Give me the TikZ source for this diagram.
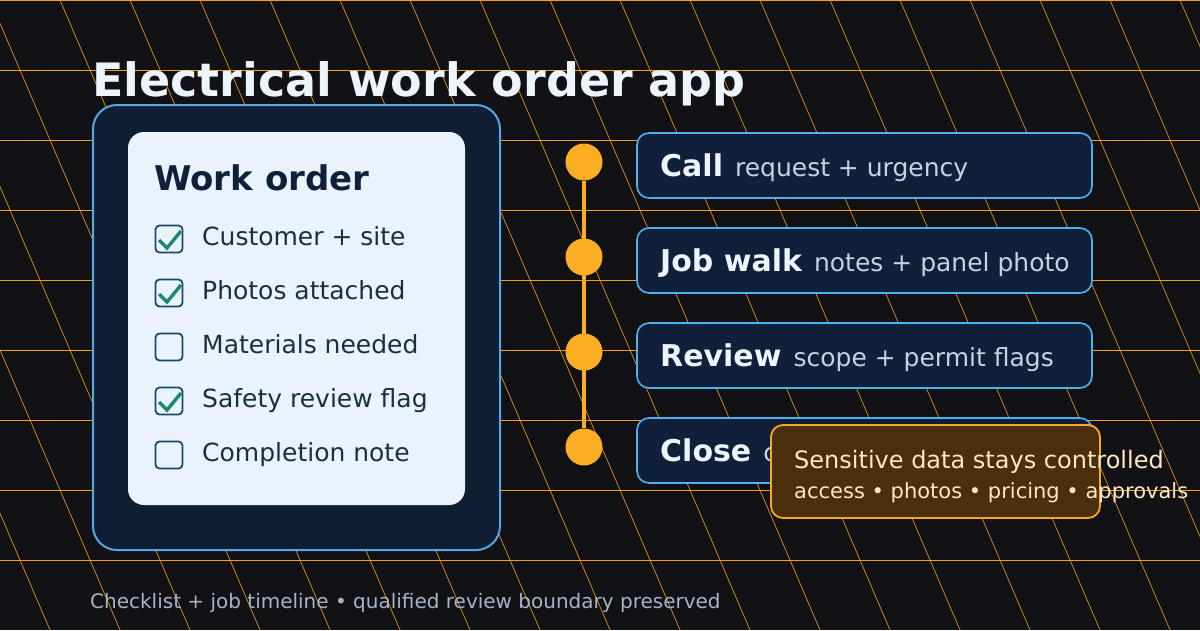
\documentclass[tikz,border=0pt]{standalone}
\usepackage{fontspec}
\setmainfont{DejaVu Sans}
\definecolor{bgdark}{HTML}{121116}
\definecolor{gridorange}{HTML}{F59E1B}
\definecolor{panelfill}{HTML}{0F1E33}
\definecolor{panelline}{HTML}{56A8E4}
\definecolor{cardfill}{HTML}{EAF3FB}
\definecolor{inktitle}{HTML}{EEF4FB}
\definecolor{inkdark}{HTML}{10203A}
\definecolor{inkitem}{HTML}{1E2D3F}
\definecolor{boxline}{HTML}{1B4A6A}
\definecolor{tickgreen}{HTML}{1D8A6B}
\definecolor{dotorange}{HTML}{FBAE24}
\definecolor{stepfill}{HTML}{10203A}
\definecolor{stepline}{HTML}{4DB1EE}
\definecolor{stepdesc}{HTML}{C5D3E1}
\definecolor{notefill}{HTML}{4B2F0D}
\definecolor{noteline}{HTML}{F9A825}
\definecolor{noteink}{HTML}{FDE8C4}
\definecolor{footink}{HTML}{A6B4C4}
\newcommand{\pxfont}[1]{\fontsize{#1}{#1}\selectfont}
\begin{document}
\begin{tikzpicture}[x=1pt,y=-1pt,
  gridline/.style={gridorange,line width=0.9pt},
  slantline/.style={gridorange,line width=0.6pt},
  label/.style={anchor=base west,inner sep=0pt},
  checkbox/.style={draw=boxline,fill=cardfill,line width=1.8pt,rounded corners=4pt,minimum size=27pt,inner sep=0pt},
  tick/.style={tickgreen,line width=3.4pt},
  dot/.style={circle,fill=dotorange,minimum size=37pt,inner sep=0pt},
  stepbox/.style={draw=stepline,fill=stepfill,line width=1.6pt,rounded corners=12pt,minimum width=455pt,minimum height=65pt},
  notebox/.style={draw=noteline,fill=notefill,line width=1.8pt,rounded corners=12pt,minimum width=329pt,minimum height=93pt}]

\fill[bgdark] (0,0) rectangle (1200,630);
\useasboundingbox (0,0) rectangle (1200,630);
\begin{scope}
\clip (0,0) rectangle (1200,630);
\foreach \k in {-4,...,17} \draw[slantline] ({60+70*\k},0) -- ({330+70*\k},630);
\foreach \y in {0,70,...,560} \draw[gridline] (0,\y) -- (1200,\y);
\end{scope}

\node[label,text=inktitle,font=\bfseries\pxfont{46}] (title) at (92,96) {Electrical work order app};

\filldraw[draw=panelline,fill=panelfill,line width=2pt,rounded corners=24pt] (93,105) rectangle (500,550);
\fill[cardfill,rounded corners=16pt] (128,132) rectangle (465,505);
\node[label,text=inkdark,font=\bfseries\pxfont{34}] (card) at (154,190) {Work order};
\foreach \i/\txt in {1/Customer + site,2/Photos attached,3/Materials needed,4/Safety review flag,5/Completion note}{
  \node[checkbox] (cb\i) at (169,{185+54*\i}) {};
  \node[label,text=inkitem,font=\pxfont{25}] (it\i) at (202,{191+54*\i}) {\txt};
}
\foreach \i in {1,2,4}
  \draw[tick] ([shift={(-10,1)}]cb\i.center) -- ([shift={(-2,9)}]cb\i.center) -- ([shift={(12,-8)}]cb\i.center);

\foreach \i/\lbl/\desc in {1/Call/request + urgency,2/Job walk/notes + panel photo,3/Review/scope + permit flags,4/Close/completion + sign-off}{
  \node[stepbox] (s\i) at (864.5,{70.5+95*\i}) {};
  \node[dot] (d\i) at (584,{67+95*\i}) {};
  \node[label,text=inktitle] (t\i) at (660,{81+95*\i}) {{\bfseries\pxfont{30}\lbl}\hspace{12pt}{\color{stepdesc}\pxfont{25}\desc}};
}
\draw[dotorange,line width=4pt] (d1) -- (d4);

\node[notebox] (note) at (935.5,471.5) {};
\node[label,text=noteink,font=\pxfont{24}] (n1) at (794,468) {Sensitive data stays controlled};
\node[label,text=noteink,font=\pxfont{21}] (n2) at (794,498) {access • photos • pricing • approvals};

\node[label,text=footink,font=\pxfont{20}] (foot) at (90,608) {Checklist + job timeline • qualified review boundary preserved};

\end{tikzpicture}
\end{document}
